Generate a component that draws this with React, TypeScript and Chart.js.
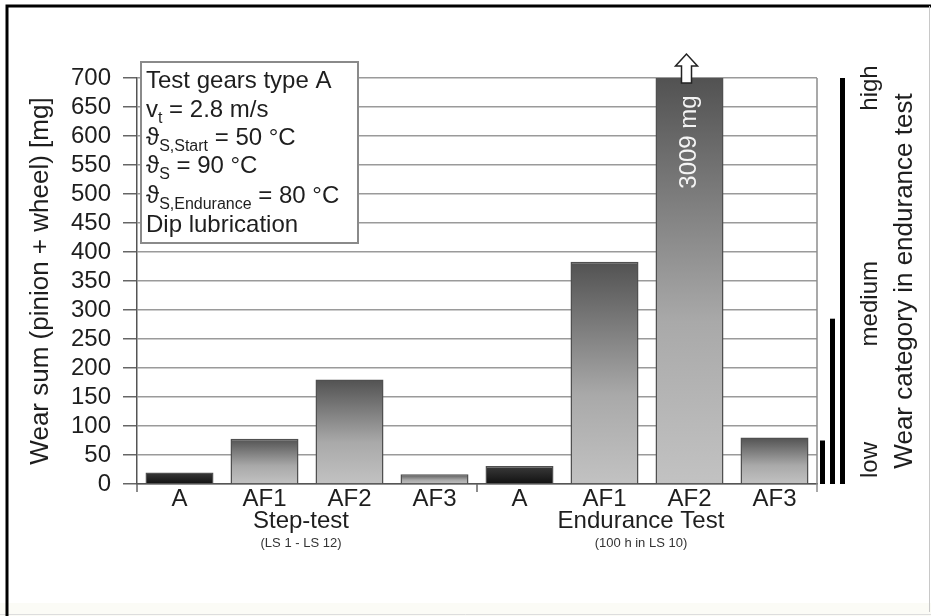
import React, { useEffect, useRef } from "react";
import { Chart, registerables } from "chart.js";
Chart.register(...registerables);

// ---------- data ----------
const categories = ["A", "AF1", "AF2", "AF3", "A", "AF1", "AF2", "AF3"];
const wearValues = [20, 78, 180, 17, 31, 383, 3009, 80];
const yMin = 0;
const yMax = 700;
const yStep = 50;
const groupNames = ["Step-test", "Endurance Test"];
const groupNotes = ["(LS 1 - LS 12)", "(100 h in LS 10)"];
const groupMembers = [[0, 1, 2, 3], [4, 5, 6, 7]];
const categoryLevels = [75, 285, 700];
const categoryNames = ["low", "medium", "high"];
const overflowIndex = 6;
const overflowLabel = "3009 mg";
const yTitle = "Wear sum (pinion + wheel) [mg]";
const rightTitle = "Wear category in endurance test";
// info box lines: [main, subscript, rest]
const infoLines: string[][] = [
  ["Test gears type A", "", ""],
  ["v", "t", " = 2.8 m/s"],
  ["\u03D1", "S,Start", " = 50 \u00B0C"],
  ["\u03D1", "S", " = 90 \u00B0C"],
  ["\u03D1", "S,Endurance", " = 80 \u00B0C"],
  ["Dip lubrication", "", ""],
];

const FONT = "'Liberation Sans', Arial, 'DejaVu Sans', sans-serif";
const TXT = "#1e1e1e";

function barFill(c: any) {
  const chart = c.chart;
  if (!chart.chartArea || !chart.scales || !chart.scales.y) return "#888";
  const y = chart.scales.y;
  const v = Math.min(c.raw ?? 0, y.max);
  const top = y.getPixelForValue(v);
  const base = y.getPixelForValue(0);
  const g = chart.ctx.createLinearGradient(0, top, 0, base + 0.01);
  if (categories[c.dataIndex] === "A") {
    g.addColorStop(0, "#3a3a3a");
    g.addColorStop(1, "#111111");
  } else {
    g.addColorStop(0, "#525252");
    g.addColorStop(0.6, "#a9a9a9");
    g.addColorStop(1, "#c2c2c2");
  }
  return g;
}

const decorPlugin = {
  id: "decor",
  beforeDraw(chart: any) {
    const ctx = chart.ctx;
    ctx.save();
    ctx.fillStyle = "#ffffff";
    ctx.fillRect(0, 0, chart.width, chart.height);
    ctx.fillStyle = "#fbfbf6";
    ctx.fillRect(0, 603, chart.width, 13);
    ctx.strokeStyle = "#dddddd";
    ctx.lineWidth = 1;
    ctx.beginPath();
    ctx.moveTo(0, 614.5);
    ctx.lineTo(chart.width, 614.5);
    ctx.stroke();
    ctx.strokeStyle = "#000";
    ctx.lineWidth = 3;
    ctx.beginPath();
    ctx.moveTo(7, 616);
    ctx.lineTo(7, 6);
    ctx.lineTo(931, 6);
    ctx.stroke();
    ctx.strokeStyle = "#c8c8c8";
    ctx.lineWidth = 1;
    ctx.beginPath();
    ctx.moveTo(929.5, 6);
    ctx.lineTo(929.5, 612);
    ctx.stroke();
    ctx.restore();
  },
  afterDraw(chart: any) {
    const ctx = chart.ctx;
    const area = chart.chartArea;
    const xs = chart.scales.x;
    const ys = chart.scales.y;
    ctx.save();

    // right plot border
    ctx.strokeStyle = "#8c8c8c";
    ctx.lineWidth = 1.5;
    ctx.beginPath();
    ctx.moveTo(area.right, area.top);
    ctx.lineTo(area.right, area.bottom + 8);
    ctx.stroke();
    ctx.strokeStyle = "#666";
    const bnd = (xs.getPixelForValue(3) + xs.getPixelForValue(4)) / 2;
    [area.left, bnd].forEach((px) => {
      ctx.beginPath();
      ctx.moveTo(px, area.bottom);
      ctx.lineTo(px, area.bottom + 8);
      ctx.stroke();
    });

    // group labels
    ctx.fillStyle = TXT;
    ctx.textAlign = "center";
    ctx.textBaseline = "middle";
    groupMembers.forEach((m, i) => {
      const cx = (xs.getPixelForValue(m[0]) + xs.getPixelForValue(m[m.length - 1])) / 2 - 6;
      ctx.font = `24px ${FONT}`;
      ctx.fillStyle = TXT;
      ctx.fillText(groupNames[i], cx, 521);
      ctx.font = `13px ${FONT}`;
      ctx.fillStyle = "#333";
      ctx.fillText(groupNotes[i], cx, 543);
    });

    // overflow arrow + label
    const bx = xs.getPixelForValue(overflowIndex);
    const ax = bx - 3;
    const top = ys.getPixelForValue(yMax);
    ctx.beginPath();
    ctx.moveTo(ax, top - 24);
    ctx.lineTo(ax - 11, top - 12);
    ctx.lineTo(ax - 5, top - 12);
    ctx.lineTo(ax - 5, top + 5);
    ctx.lineTo(ax + 5, top + 5);
    ctx.lineTo(ax + 5, top - 12);
    ctx.lineTo(ax + 11, top - 12);
    ctx.closePath();
    ctx.fillStyle = "#fff";
    ctx.fill();
    ctx.strokeStyle = "#222";
    ctx.lineWidth = 1.5;
    ctx.stroke();

    ctx.save();
    ctx.translate(bx, top + 64);
    ctx.rotate(-Math.PI / 2);
    ctx.fillStyle = "#f4f4f4";
    ctx.font = `24px ${FONT}`;
    ctx.textAlign = "center";
    ctx.textBaseline = "middle";
    ctx.fillText(overflowLabel, 0, 0);
    ctx.restore();

    // wear category bars
    ctx.fillStyle = "#000";
    categoryLevels.forEach((lv, i) => {
      const x0 = area.right + 3 + i * 10;
      const yt = ys.getPixelForValue(lv);
      ctx.fillRect(x0, yt, 5, ys.getPixelForValue(0) - yt);
    });
    const labelY = [
      ys.getPixelForValue(0) - 24,
      ys.getPixelForValue(categoryLevels[1]) - 15,
      ys.getPixelForValue(categoryLevels[2]) + 10,
    ];
    ctx.fillStyle = TXT;
    ctx.font = `24px ${FONT}`;
    categoryNames.forEach((nm, i) => {
      ctx.save();
      ctx.translate(area.right + 53, labelY[i]);
      ctx.rotate(-Math.PI / 2);
      ctx.textAlign = "center";
      ctx.textBaseline = "middle";
      ctx.fillText(nm, 0, 0);
      ctx.restore();
    });
    const midY = (area.top + area.bottom) / 2;
    ctx.font = `26px ${FONT}`;
    ctx.save();
    ctx.translate(area.right + 88, midY);
    ctx.rotate(-Math.PI / 2);
    ctx.textAlign = "center";
    ctx.textBaseline = "middle";
    ctx.fillText(rightTitle, 0, 0);
    ctx.restore();

    ctx.save();
    ctx.translate(41, midY);
    ctx.rotate(-Math.PI / 2);
    ctx.textAlign = "center";
    ctx.textBaseline = "middle";
    ctx.fillText(yTitle, 0, 0);
    ctx.restore();

    // info box
    const bxL = area.left + 4;
    const byT = area.top - 16;
    ctx.fillStyle = "#fff";
    ctx.fillRect(bxL, byT, 217, 181);
    ctx.strokeStyle = "#8a8a8a";
    ctx.lineWidth = 2;
    ctx.strokeRect(bxL, byT, 217, 181);
    const baselines = [88, 117, 145, 173, 203, 232];
    ctx.textAlign = "left";
    ctx.textBaseline = "alphabetic";
    ctx.fillStyle = TXT;
    infoLines.forEach((ln, i) => {
      let x = bxL + 5;
      const yb = baselines[i];
      ctx.font = `24px ${FONT}`;
      ctx.fillText(ln[0], x, yb);
      x += ctx.measureText(ln[0]).width;
      if (ln[1]) {
        ctx.font = `16px ${FONT}`;
        ctx.fillText(ln[1], x, yb + 6);
        x += ctx.measureText(ln[1]).width;
      }
      if (ln[2]) {
        ctx.font = `24px ${FONT}`;
        ctx.fillText(ln[2], x, yb);
      }
    });

    ctx.restore();
  },
};

export default function App() {
  const ref = useRef<HTMLCanvasElement>(null);
  useEffect(() => {
    if (!ref.current) return;
    const chart = new Chart(ref.current, {
      type: "bar",
      data: {
        labels: categories,
        datasets: [
          {
            data: wearValues,
            backgroundColor: barFill as any,
            borderColor: "#505050",
            borderWidth: 1.5,
            barPercentage: 0.8,
            categoryPercentage: 1.0,
          },
        ],
      },
      options: {
        animation: false,
        responsive: false,
        devicePixelRatio: 1,
        events: [],
        layout: { padding: { left: 0, top: 78, right: 114, bottom: 0 } },
        plugins: { legend: { display: false }, tooltip: { enabled: false } },
        scales: {
          x: {
            grid: { display: false, drawTicks: false },
            border: { display: true, color: "#555", width: 1.5 },
            ticks: {
              color: TXT,
              font: { family: FONT, size: 24 },
              padding: 1,
              autoSkip: false,
              maxRotation: 0,
            },
            afterFit: (s: any) => {
              s.height = 132;
            },
          },
          y: {
            min: yMin,
            max: yMax,
            ticks: {
              stepSize: yStep,
              autoSkip: false,
              color: TXT,
              font: { family: FONT, size: 24 },
              padding: 12,
            },
            grid: {
              color: "#9a9a9a",
              lineWidth: 1.5,
              tickLength: 14,
              tickColor: "#666",
              drawTicks: true,
            },
            border: { display: true, color: "#555", width: 1.5 },
            afterFit: (s: any) => {
              s.width = 137;
            },
          },
        },
      },
      plugins: [decorPlugin],
    });
    return () => chart.destroy();
  }, []);
  return (
    <canvas
      ref={ref}
      width={931}
      height={616}
      style={{ position: "absolute", left: 0, top: 0, width: 931, height: 616 }}
    />
  );
}
